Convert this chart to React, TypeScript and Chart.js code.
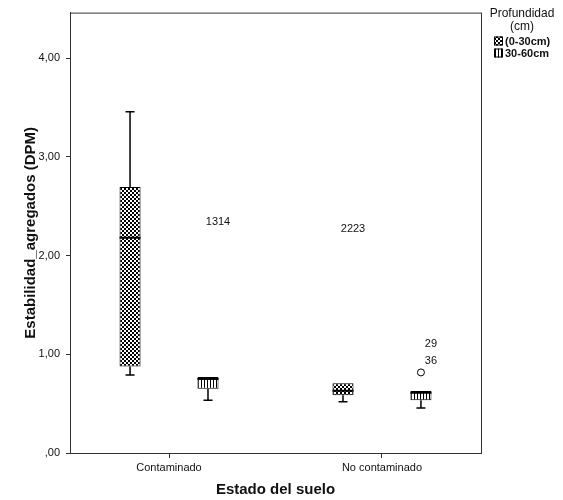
import React, { useEffect, useRef } from 'react';
import { Chart, registerables } from 'chart.js';

Chart.register(...registerables);

// ---------- data ----------
const categories = ['Contaminado', 'No contaminado'];
const seriesNames = ['(0-30cm)', '30-60cm'];
const legendTitle = ['Profundidad', '(cm)'];
const xTitle = 'Estado del suelo';
const yTitle = 'Estabilidad_agregados (DPM)';
const yTicks = [0, 1, 2, 3, 4];
const xTicks = [0, 1];

// series (0-30cm)
const min0_30 = [0.79, 0.52];
const q1_0_30 = [0.876, 0.584];
const median0_30 = [2.18, 0.63];
const q3_0_30 = [2.694, 0.706];
const max0_30 = [3.456, 0.706];

// series 30-60cm
const min30_60 = [0.534, 0.455];
const q1_30_60 = [0.65, 0.534];
const median30_60 = [0.75, 0.61];
const q3_30_60 = [0.77, 0.627];
const max30_60 = [0.77, 0.627];

// outliers
const outlierSeries = [1];
const outlierCategory = [1];
const outlierValue = [0.816];

// case labels
const caseLabelText = ['1314', '2223', '29', '36'];
const caseLabelSeries = [1, 0, 1, 1];
const caseLabelCategory = [0, 1, 1, 1];
const caseLabelValue = [2.34, 2.27, 1.107, 0.935];

const FONT = '"Liberation Sans", Arial, sans-serif';

function makeChecker(): CanvasPattern | string {
  const c = document.createElement('canvas');
  c.width = 4;
  c.height = 4;
  const g = c.getContext('2d')!;
  g.fillStyle = '#ffffff';
  g.fillRect(0, 0, 4, 4);
  g.fillStyle = '#000000';
  g.fillRect(0, 0, 2, 2);
  g.fillRect(2, 2, 2, 2);
  const p = g.createPattern(c, 'repeat');
  return p || '#888';
}

function makeStripes(): CanvasPattern | string {
  const c = document.createElement('canvas');
  c.width = 3;
  c.height = 3;
  const g = c.getContext('2d')!;
  g.fillStyle = '#ffffff';
  g.fillRect(0, 0, 3, 3);
  g.fillStyle = '#000000';
  g.fillRect(0, 0, 1, 3);
  const p = g.createPattern(c, 'repeat');
  return p || '#bbb';
}

export default function App() {
  const ref = useRef<HTMLCanvasElement | null>(null);

  useEffect(() => {
    const canvas = ref.current;
    if (!canvas) return;
    const checker = makeChecker();
    const stripes = makeStripes();
    const patterns = [checker, stripes];

    const stats = [
      { min: min0_30, q1: q1_0_30, med: median0_30, q3: q3_0_30, max: max0_30 },
      { min: min30_60, q1: q1_30_60, med: median30_60, q3: q3_30_60, max: max30_60 },
    ];

    const extras = {
      id: 'boxExtras',
      afterDatasetsDraw(chart: any) {
        const ctx: CanvasRenderingContext2D = chart.ctx;
        const ys = chart.scales.y;
        const centers: number[][] = [];
        stats.forEach((s, di) => {
          const meta = chart.getDatasetMeta(di);
          centers[di] = [];
          meta.data.forEach((el: any, i: number) => {
            const cx = el.x;
            const w = el.width;
            centers[di][i] = cx;
            const cap = 9;
            ctx.save();
            ctx.strokeStyle = '#000';
            ctx.lineWidth = 1.5;
            const yq1 = ys.getPixelForValue(s.q1[i]);
            const yq3 = ys.getPixelForValue(s.q3[i]);
            if (s.min[i] < s.q1[i]) {
              const ym = ys.getPixelForValue(s.min[i]);
              ctx.beginPath();
              ctx.moveTo(cx, yq1);
              ctx.lineTo(cx, ym);
              ctx.moveTo(cx - cap / 2, ym);
              ctx.lineTo(cx + cap / 2, ym);
              ctx.stroke();
            }
            if (s.max[i] > s.q3[i]) {
              const yM = ys.getPixelForValue(s.max[i]);
              ctx.beginPath();
              ctx.moveTo(cx, yq3);
              ctx.lineTo(cx, yM);
              ctx.moveTo(cx - cap / 2, yM);
              ctx.lineTo(cx + cap / 2, yM);
              ctx.stroke();
            }
            const ymed = ys.getPixelForValue(s.med[i]);
            ctx.lineWidth = 2;
            ctx.beginPath();
            ctx.moveTo(cx - w / 2, ymed);
            ctx.lineTo(cx + w / 2, ymed);
            ctx.stroke();
            ctx.restore();
          });
        });

        // outliers
        ctx.save();
        outlierValue.forEach((v, k) => {
          const cx = centers[outlierSeries[k]][outlierCategory[k]];
          const cy = ys.getPixelForValue(v);
          ctx.beginPath();
          ctx.arc(cx, cy, 3.5, 0, Math.PI * 2);
          ctx.fillStyle = '#fff';
          ctx.fill();
          ctx.strokeStyle = '#000';
          ctx.lineWidth = 1;
          ctx.stroke();
        });
        ctx.restore();

        // case labels
        ctx.save();
        ctx.font = `11px ${FONT}`;
        ctx.fillStyle = '#111';
        ctx.textAlign = 'center';
        ctx.textBaseline = 'middle';
        caseLabelText.forEach((t, k) => {
          const cx = centers[caseLabelSeries[k]][caseLabelCategory[k]] + 10;
          const cy = ys.getPixelForValue(caseLabelValue[k]);
          ctx.fillText(t, cx, cy);
        });
        ctx.restore();
      },
      afterDraw(chart: any) {
        const ctx: CanvasRenderingContext2D = chart.ctx;
        const a = chart.chartArea;
        ctx.save();
        ctx.strokeStyle = '#333';
        ctx.lineWidth = 1;
        ctx.strokeRect(a.left + 0.5, a.top + 0.5, a.right - a.left, a.bottom - a.top);
        ctx.restore();

        // legend
        ctx.save();
        ctx.fillStyle = '#111';
        ctx.textAlign = 'center';
        ctx.textBaseline = 'middle';
        ctx.font = `12px ${FONT}`;
        const lx = 522;
        ctx.fillText(legendTitle[0], lx, 14);
        ctx.fillText(legendTitle[1], lx, 27);
        ctx.textAlign = 'left';
        ctx.font = `bold 11px ${FONT}`;
        seriesNames.forEach((name, i) => {
          const yy = 41 + i * 12;
          ctx.fillStyle = patterns[i] as any;
          ctx.fillRect(494, yy - 4.5, 9, 9);
          ctx.strokeStyle = '#000';
          ctx.lineWidth = 1;
          ctx.strokeRect(494.5, yy - 4, 8, 8);
          ctx.fillStyle = '#111';
          ctx.fillText(name, 505, yy + 0.5);
        });
        ctx.restore();
      },
    };

    const chart = new Chart(canvas, {
      type: 'bar',
      data: {
        datasets: seriesNames.map((name, di) => ({
          label: name,
          data: categories.map((_, i) => ({ x: xTicks[i], y: [stats[di].q1[i], stats[di].q3[i]] })),
          backgroundColor: patterns[di] as any,
          borderColor: '#000',
          borderWidth: 1,
          borderSkipped: false,
          categoryPercentage: 0.732,
          barPercentage: 0.27,
        })) as any,
      },
      options: {
        animation: false,
        responsive: false,
        devicePixelRatio: 1,
        layout: { padding: { top: 5, right: 82, left: 0, bottom: 0 } },
        plugins: {
          legend: { display: false },
          tooltip: { enabled: false },
        },
        scales: {
          x: {
            type: 'linear',
            min: -0.465,
            max: 1.465,
            offset: false,
            afterBuildTicks: (s: any) => {
              s.ticks = xTicks.map((v) => ({ value: v }));
            },
            afterFit: (s: any) => {
              s.height = 47;
            },
            ticks: {
              callback: (v: any) => categories[Math.round(Number(v))] ?? '',
              font: { family: FONT, size: 11 },
              color: '#111',
              padding: 3,
              maxRotation: 0,
              autoSkip: false,
            },
            grid: { offset: false, drawOnChartArea: false, drawTicks: true, tickLength: 5, color: '#333' },
            border: { display: true, color: '#333', width: 1 },
            title: {
              display: true,
              text: xTitle,
              font: { family: FONT, size: 15, weight: 'bold' },
              color: '#111',
              padding: { top: 0, bottom: 1 },
            },
          },
          y: {
            type: 'linear',
            min: 0,
            max: 4.46,
            afterBuildTicks: (s: any) => {
              s.ticks = yTicks.map((v) => ({ value: v }));
            },
            afterFit: (s: any) => {
              s.width = 70;
            },
            ticks: {
              callback: (v: any) => {
                const n = Number(v);
                const str = n.toFixed(2).replace('.', ',');
                return n === 0 ? ',00' : str;
              },
              font: { family: FONT, size: 11 },
              color: '#111',
              padding: 6,
            },
            grid: { drawOnChartArea: false, drawTicks: true, tickLength: 4, color: '#333' },
            border: { display: true, color: '#333', width: 1 },
            title: {
              display: true,
              text: yTitle,
              font: { family: FONT, size: 15, weight: 'bold' },
              color: '#111',
              padding: { top: 22, bottom: 0 },
            },
          },
        },
      } as any,
      plugins: [extras],
    });

    return () => chart.destroy();
  }, []);

  return (
    <div style={{ position: 'fixed', left: 0, top: 0, width: 563, height: 500, background: '#fff' }}>
      <canvas ref={ref} width={563} height={500} style={{ display: 'block', width: 563, height: 500 }} />
    </div>
  );
}
